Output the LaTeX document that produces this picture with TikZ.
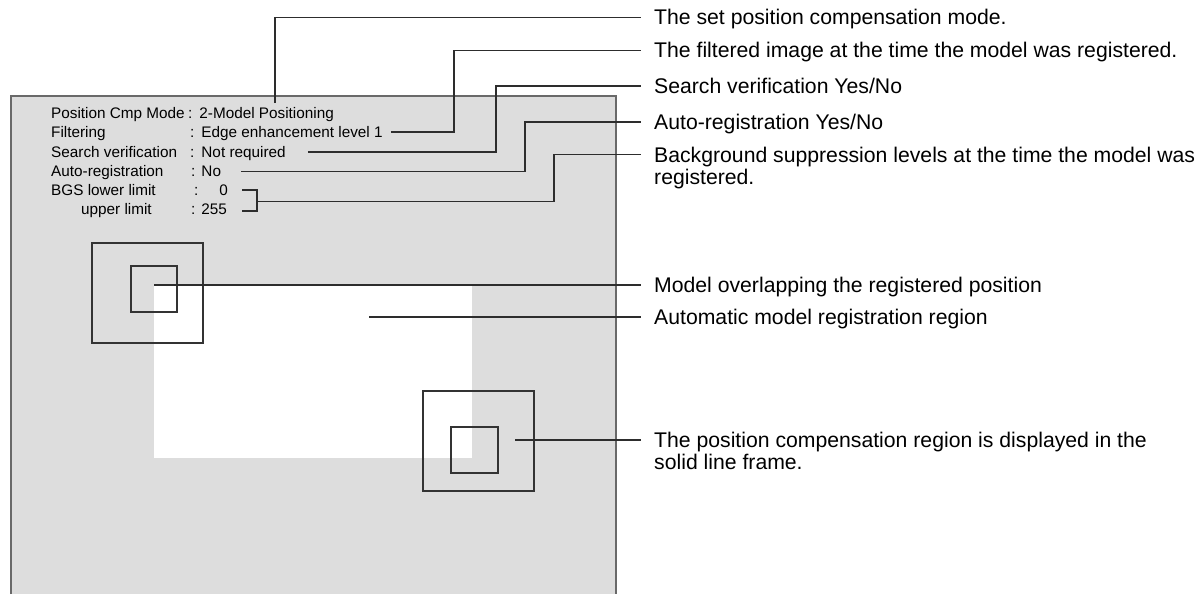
\documentclass[tikz,border=0pt]{standalone}
\usepackage{fontspec}
\setmainfont{Liberation Sans}
\definecolor{screengray}{RGB}{221,221,221}
\definecolor{framegray}{RGB}{105,105,105}
\definecolor{leadgray}{RGB}{45,45,45}

\begin{document}
\begin{tikzpicture}[x=1pt,y=-1pt,
 boxtxt/.style={anchor=base west,inner sep=0pt,font=\fontsize{15.3}{18}\selectfont},
 note/.style={anchor=base west,inner sep=0pt,align=left,font=\fontsize{21.2}{22}\selectfont},
 lead/.style={leadgray,line width=1.4pt},
 sqframe/.style={black!80,line width=1.5pt}]
\useasboundingbox (0,0) rectangle (1201,594);
% monitor screen
\fill[screengray] (11,96) rectangle (616,594);
\draw[framegray,line width=1.8pt] (11,594) -- (11,96) -- (616,96) -- (616,594);
\node[fill=white,inner sep=0pt,anchor=north west,minimum width=318pt,minimum height=173pt] (autoreg) at (154,285) {};
\draw[sqframe] (92,243) rectangle (203,343);
\draw[sqframe] (131,266) rectangle (177,312);
\draw[sqframe] (423,391) rectangle (534,491);
\draw[sqframe] (451,427) rectangle (498,473);
% setting list
\node[boxtxt] (nmode) at (51,118) {Position Cmp Mode};
\node[boxtxt] (vmode) at (188,118) {:\kern7pt 2-Model Positioning};
\node[boxtxt] (nfilt) at (51,137.5) {Filtering};
\node[boxtxt] (vfilt) at (190,137.5) {:\kern7pt Edge enhancement level 1};
\node[boxtxt] (nsrch) at (51,157) {Search verification};
\node[boxtxt] (vsrch) at (190,157) {:\kern7pt Not required};
\node[boxtxt] (nauto) at (51,176.5) {Auto-registration};
\node[boxtxt] (vauto) at (191,176.5) {:\kern6pt No};
\node[boxtxt] (nlow) at (51,195.5) {BGS lower limit};
\node[boxtxt] (vlow) at (194,195.5) {:\kern4pt\hphantom{25}0};
\node[boxtxt] (nupp) at (81,214) {upper limit};
\node[boxtxt] (vupp) at (191,214) {:\kern6pt 255};
% explanations
\node[note] (lmode) at (654,25) {The set position compensation mode.};
\node[note] (lfilt) at (654,58) {The filtered image at the time the model was registered.};
\node[note] (lsrch) at (654,93.5) {Search verification Yes/No};
\node[note] (lauto) at (654,129.5) {Auto-registration Yes/No};
\node[note] (lbgs) at (654,184) {Background suppression levels at the time the model was\\registered.};
\node[note] (lmodel) at (654,292.5) {Model overlapping the registered position};
\node[note] (lregion) at (654,324.5) {Automatic model registration region};
\node[note] (lcmp) at (654,469.5) {The position compensation region is displayed in the\\solid line frame.};
\foreach \n in {mode,filt,srch,auto,model,region}
 \coordinate (e\n) at ([shift={(-13pt,7.5pt)}]l\n.base west);
\foreach \n in {bgs,cmp}
 \coordinate (e\n) at ([shift={(-13pt,29.5pt)}]l\n.base west);
% leaders
\coordinate (kfilt) at (454,0);
\coordinate (ksrch) at (496,0);
\coordinate (kauto) at (525,0);
\coordinate (kbgs) at (554,0);
\coordinate (kmode) at (275,103);
\draw[lead] (kmode) |- (emode);
\draw[lead] ([shift={(8pt,5.5pt)}]vfilt.base east) -| (kfilt |- efilt) -- (efilt);
\draw[lead] ([shift={(22pt,5pt)}]vsrch.base east) -| (ksrch |- esrch) -- (esrch);
\draw[lead] ([shift={(20pt,5pt)}]vauto.base east) -| (kauto |- eauto) -- (eauto);
\coordinate (btop) at (242,190);
\coordinate (bbot) at (242,211);
\coordinate (bmid) at (257,201.5);
\draw[lead] (btop) -- ++(15,0) |- (bbot);
\draw[lead] (bmid) -| (kbgs |- ebgs) -- (ebgs);
\draw[lead] (autoreg.north west) -- (emodel);
\coordinate (aregion) at (369,317);
\draw[lead] (aregion) -- (eregion);
\coordinate (acmp) at (515,440);
\draw[lead] (acmp) -- (ecmp);
\end{tikzpicture}
\end{document}
